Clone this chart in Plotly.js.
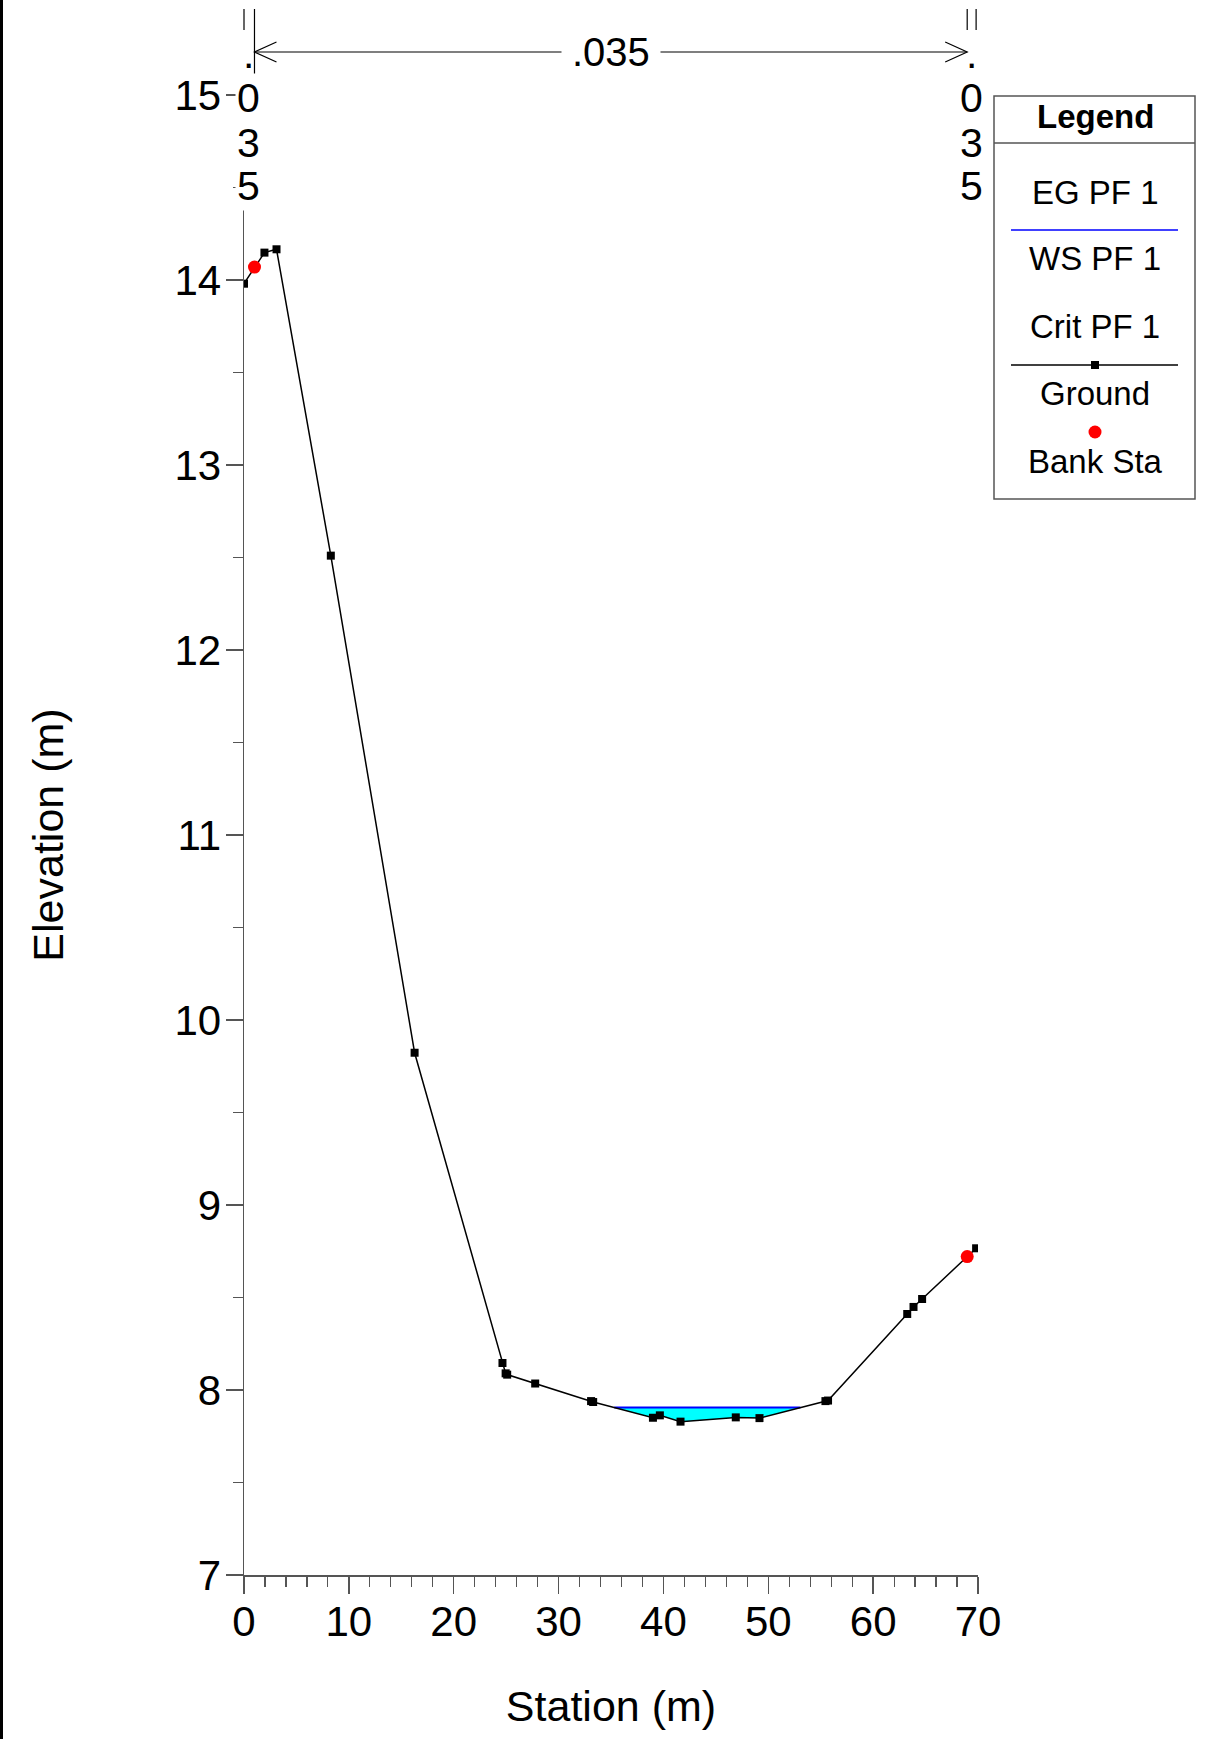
<!DOCTYPE html>
<html>
<head>
<meta charset="utf-8">
<script src="https://cdn.plot.ly/plotly-3.0.1.min.js"></script>
<style>
  html, body { margin: 0; padding: 0; background: #fff; }
  #chart { width: 1207px; height: 1739px; }
</style>
</head>
<body>
<div id="chart"></div>
<script>
// Cross section: ground survey points (station, elevation), metres
const groundStation = [0, 1.0, 1.95, 3.1, 8.28, 16.27, 24.65, 24.95, 25.1, 27.77,
  33.1, 33.3, 39.0, 39.66, 41.63, 46.9, 49.16, 55.45, 55.7, 63.25, 63.85, 64.67, 68.97, 69.82];
const groundElev = [13.98, 14.07, 14.148, 14.166, 12.51, 9.823, 8.146, 8.09, 8.083, 8.035,
  7.94, 7.935, 7.85, 7.863, 7.829, 7.852, 7.848, 7.94, 7.943, 8.411, 8.449, 8.492, 8.721, 8.766];

// Bank stations
const bankStation = [1.0, 68.97];
const bankElev = [14.07, 8.721];

// Water surface, profile PF 1
const wsElev = 7.905;

// Manning's n values: left overbank, channel, right overbank
const manningN = [".035", ".035", ".035"];

// Axis ticks
const xTicks = [0, 10, 20, 30, 40, 50, 60, 70];
const yTicks = [7, 8, 9, 10, 11, 12, 13, 14, 15];

// Legend entries
const legendLabels = ["EG PF 1", "WS PF 1", "Crit PF 1", "Ground", "Bank Sta"];

const FONT = "Liberation Sans, Arial, Helvetica, sans-serif";

// Plot-area geometry in page pixels
const ML = 244, MR = 229, MT = 95, MB = 164;
const PW = 1207 - ML - MR, PH = 1739 - MT - MB;
const px = X => (X - ML) / PW;          // page x -> paper x
const py = Y => (MT + PH - Y) / PH;     // page y -> paper y
const xMin = 0, xMax = 70;
const sx = s => (s - xMin) / (xMax - xMin); // station -> paper x

// Wetted section: where the water surface meets the ground
function crossing(i, j) {
  const t = (groundElev[i] - wsElev) / (groundElev[i] - groundElev[j]);
  return groundStation[i] + t * (groundStation[j] - groundStation[i]);
}
let iL = -1, iR = -1;
for (let i = 0; i < groundStation.length - 1; i++) {
  if (iL < 0 && groundElev[i] > wsElev && groundElev[i + 1] <= wsElev) iL = i;
  if (groundElev[i] <= wsElev && groundElev[i + 1] > wsElev) iR = i;
}
const wsLeft = crossing(iL, iL + 1);
const wsRight = crossing(iR, iR + 1);
const fillX = [wsLeft], fillY = [wsElev];
for (let i = iL + 1; i <= iR; i++) { fillX.push(groundStation[i]); fillY.push(groundElev[i]); }
fillX.push(wsRight, wsLeft); fillY.push(wsElev, wsElev);

const traces = [
  { x: fillX, y: fillY, type: "scatter", mode: "lines", fill: "toself",
    fillcolor: "#00FFFF", line: { width: 0 }, hoverinfo: "skip", name: "water" },
  { x: [wsLeft, wsRight], y: [wsElev, wsElev], type: "scatter", mode: "lines",
    line: { color: "#0000FF", width: 2 }, name: legendLabels[1] },
  { x: groundStation, y: groundElev, type: "scatter", mode: "lines+markers",
    line: { color: "#000", width: 1.5 },
    marker: { symbol: "square", size: 8, color: "#000" }, name: legendLabels[3] },
  { x: bankStation, y: bankElev, type: "scatter", mode: "markers",
    marker: { symbol: "circle", size: 13, color: "#FF0000" }, name: legendLabels[4] }
];

const shapes = [];
const annotations = [];
const ink = "#000";

// Page frame on the left
shapes.push({ type: "line", xref: "paper", yref: "paper",
  x0: px(1.5), x1: px(1.5), y0: py(0), y1: py(1739), line: { color: ink, width: 3 } });

// n-value break markers above the plot
const yTopMark = py(9), yShortMark = py(30), yLongMark = py(87);
shapes.push({ type: "line", xref: "paper", yref: "paper", x0: sx(xMin), x1: sx(xMin), y0: yTopMark, y1: yShortMark, line: { color: ink, width: 1.2 } });
shapes.push({ type: "line", xref: "paper", yref: "paper", x0: sx(bankStation[0]), x1: sx(bankStation[0]), y0: yTopMark, y1: yLongMark, line: { color: ink, width: 1.2 } });
shapes.push({ type: "line", xref: "paper", yref: "paper", x0: sx(bankStation[1]), x1: sx(bankStation[1]), y0: yTopMark, y1: yShortMark, line: { color: ink, width: 1.2 } });
shapes.push({ type: "line", xref: "paper", yref: "paper", x0: sx(groundStation[groundStation.length - 1]), x1: sx(groundStation[groundStation.length - 1]), y0: yTopMark, y1: yShortMark, line: { color: ink, width: 1.2 } });

// Channel n-value dimension arrow
const yArrow = py(52);
const aL = sx(bankStation[0]), aR = sx(bankStation[1]);
const hx = 22 / PW, hy = 10 / PH;
shapes.push({ type: "line", xref: "paper", yref: "paper", x0: aL, x1: aR, y0: yArrow, y1: yArrow, line: { color: ink, width: 1.2 } });
shapes.push({ type: "path", xref: "paper", yref: "paper",
  path: `M ${aL + hx} ${yArrow + hy} L ${aL} ${yArrow} L ${aL + hx} ${yArrow - hy}`, line: { color: ink, width: 1.2 } });
shapes.push({ type: "path", xref: "paper", yref: "paper",
  path: `M ${aR - hx} ${yArrow + hy} L ${aR} ${yArrow} L ${aR - hx} ${yArrow - hy}`, line: { color: ink, width: 1.2 } });

annotations.push({ xref: "paper", yref: "paper", x: (aL + aR) / 2, y: yArrow,
  text: manningN[1], showarrow: false, bgcolor: "#fff", borderpad: 10,
  font: { family: FONT, size: 40, color: ink }, xanchor: "center", yanchor: "middle" });

// Overbank n-values written vertically
function verticalLabel(value, xPaper) {
  const chars = value.split("");
  const ys = [54, 98, 143, 186];
  chars.forEach((c, k) => {
    annotations.push({ xref: "paper", yref: "paper", x: xPaper, y: py(ys[k]),
      text: c, showarrow: false, bgcolor: c === "." ? "rgba(0,0,0,0)" : "#fff", borderpad: 1,
      font: { family: FONT, size: 41, color: ink }, xanchor: "center", yanchor: "middle" });
  });
}
verticalLabel(manningN[0], px(248));
verticalLabel(manningN[2], px(971));

// Legend box
const LX0 = 994, LX1 = 1195, LY0 = 96, LY1 = 499, LCX = 1095;
const legendFont = { family: FONT, size: 33, color: ink };
shapes.push({ type: "rect", xref: "paper", yref: "paper",
  x0: px(LX0), x1: px(LX1), y0: py(LY1), y1: py(LY0), fillcolor: "#fff", line: { color: "#555", width: 1.5 } });
shapes.push({ type: "line", xref: "paper", yref: "paper",
  x0: px(LX0), x1: px(LX1), y0: py(143), y1: py(143), line: { color: "#555", width: 1.5 } });
annotations.push({ xref: "paper", yref: "paper", x: px(LCX), y: py(117), text: "<b>Legend</b>",
  showarrow: false, font: legendFont, xanchor: "center", yanchor: "middle" });
const labelY = [192, 258, 326, 393, 462];
legendLabels.forEach((t, k) => {
  annotations.push({ xref: "paper", yref: "paper", x: px(LCX), y: py(labelY[k]), text: t,
    showarrow: false, font: legendFont, xanchor: "center", yanchor: "middle" });
});
// WS sample
shapes.push({ type: "line", xref: "paper", yref: "paper", x0: px(1011), x1: px(1178), y0: py(230), y1: py(230),
  line: { color: "#0000FF", width: 1.5 } });
// Ground sample
shapes.push({ type: "line", xref: "paper", yref: "paper", x0: px(1011), x1: px(1178), y0: py(365), y1: py(365),
  line: { color: ink, width: 1.5 } });
shapes.push({ type: "rect", xref: "paper", yref: "paper", x0: px(LCX - 4), x1: px(LCX + 4), y0: py(369), y1: py(361),
  fillcolor: ink, line: { width: 0 } });
// Bank Sta sample
shapes.push({ type: "circle", xref: "paper", yref: "paper", x0: px(LCX - 6.5), x1: px(LCX + 6.5), y0: py(438.5), y1: py(425.5),
  fillcolor: "#FF0000", line: { width: 0 } });

const axisColor = "#555";
const layout = {
  width: 1207, height: 1739,
  margin: { l: ML, r: MR, t: MT, b: MB, pad: 0 },
  paper_bgcolor: "#fff", plot_bgcolor: "#fff",
  showlegend: false,
  font: { family: FONT, color: ink },
  xaxis: {
    range: [xMin, xMax], tickvals: xTicks, ticktext: xTicks.map(String),
    showgrid: false, zeroline: false, showline: true, linecolor: axisColor, linewidth: 1.5,
    ticks: "outside", ticklen: 17, tickwidth: 1.5, tickcolor: axisColor,
    minor: { ticks: "outside", dtick: 2, ticklen: 10, tickwidth: 1.2, tickcolor: axisColor, showgrid: false },
    tickfont: { family: FONT, size: 42, color: ink },
    ticklabelstandoff: -8,
    title: { text: "Station (m)", font: { family: FONT, size: 43, color: ink }, standoff: 47 },
    automargin: false
  },
  yaxis: {
    range: [7, 15], tickvals: yTicks, ticktext: yTicks.map(String),
    showgrid: false, zeroline: false, showline: true, linecolor: axisColor, linewidth: 1.5,
    ticks: "outside", ticklen: 17, tickwidth: 1.5, tickcolor: axisColor,
    minor: { ticks: "outside", dtick: 0.5, ticklen: 10, tickwidth: 1.2, tickcolor: axisColor, showgrid: false },
    tickfont: { family: FONT, size: 42, color: ink },
    ticklabelstandoff: -4,
    title: { text: "Elevation (m)", font: { family: FONT, size: 43, color: ink }, standoff: 97 },
    automargin: false
  },
  shapes: shapes,
  annotations: annotations
};

Plotly.newPlot("chart", traces, layout, { staticPlot: true, displayModeBar: false });
</script>
</body>
</html>
